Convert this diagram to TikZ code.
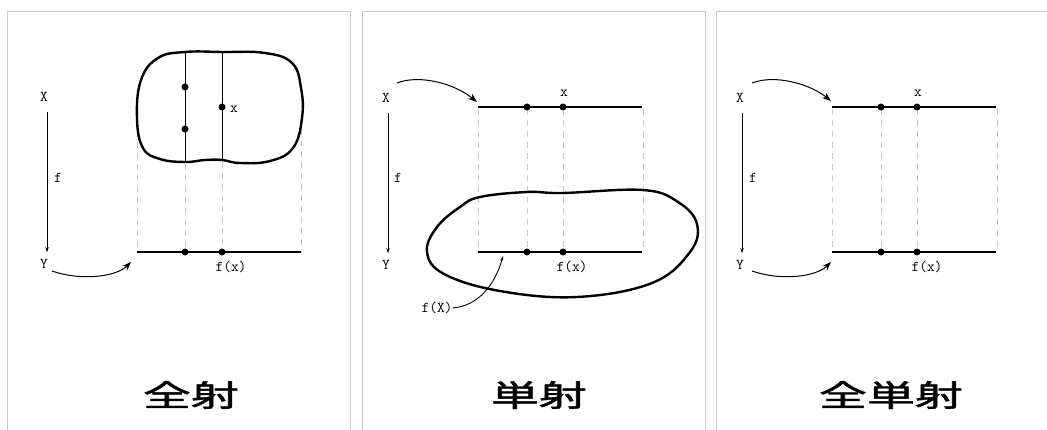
\documentclass[tikz,border=0pt]{standalone}
\usepackage{fontspec}
\newfontfamily\cjk[FakeBold=1.3]{Noto Sans CJK JP}
\usetikzlibrary{arrows.meta}
\begin{document}
\begin{tikzpicture}[x=1pt,y=-1pt,
  lbl/.style={font=\ttfamily\fontsize{15}{15}\selectfont, inner sep=0pt},
  ttl/.style={font=\cjk\fontsize{30}{30}\selectfont, inner sep=0pt},
  border/.style={draw=black!20, line width=1pt},
  axisline/.style={line width=2.6pt},
  guide/.style={draw=black!22, line width=1pt, dash pattern=on 6pt off 5pt},
  blob/.style={line width=2.4pt},
  chord/.style={line width=1pt},
  dotm/.style={circle, fill=black, inner sep=0pt, minimum size=7pt},
  farr/.style={line width=0.9pt, -{Stealth[length=5pt,width=3.5pt]}},
  carr/.style={line width=1pt, -{Stealth[length=9pt,width=6.5pt]}},
  sarr/.style={line width=0.9pt, -{Stealth[length=5pt,width=3pt]}}
]
\useasboundingbox (0,0) rectangle (1047,430);
\fill[white] (0,0) rectangle (1047,430);

% ---------- panel borders
\draw[border] (7,431) -- (7,12) -- (350,12) -- (350,431);
\draw[border] (362,431) -- (362,12) -- (705,12) -- (705,431);
\draw[border] (716,431) -- (716,12) -- (1060,12);

% ================= Panel 1 : surjection
\node[lbl] (X1) at (44,97) {X};
\node[lbl] (Y1) at (44,264) {Y};
\node[lbl] (f1) at (58,178) {f};
\draw[farr] ([xshift=3pt,yshift=-10pt]X1.south) -- ([xshift=3pt,yshift=7pt]Y1.north);

\draw[guide] (137,120) -- (137,252);
\draw[guide] (301,118) -- (301,252);
\draw[guide] (185,164) -- (185,252);
\draw[guide] (222,162) -- (222,252);

\draw[blob] plot[smooth cycle, tension=0.7] coordinates {
 (185,52) (222,52) (265,53) (292,63) (301,88) (302,118) (293,148) (270,161) (240,163)
 (222,160) (205,160) (185,162) (160,159) (143,148) (137,118) (141,80) (158,58)};
\draw[chord] (185,52) -- (185,162);
\draw[chord] (222,52) -- (222,160);
\node[dotm] (a1) at (185,87) {};
\node[dotm] (a2) at (185,129) {};
\node[dotm] (a3) at (222,107) {};
\node[lbl] (x1) at (234,109) {x};

\coordinate (B1l) at (137,252);
\coordinate (B1r) at (301,252);
\draw[axisline] (B1l) -- (B1r);
\node[dotm] (b1) at (185,252) {};
\node[dotm] (b2) at (222,252) {};
\node[lbl] (fx1) at (231,267) {f(x)};
\coordinate (Y1e) at (131,262);
\draw[carr] ([xshift=8pt,yshift=-7pt]Y1.center) .. controls (80,281) and (116,277) .. (Y1e);

\node[ttl] (t1) at (191,395) {\scalebox{1.6}[1]{全射}};

% ================= Panel 2 : injection
\node[lbl] (X2) at (386,98) {X};
\node[lbl] (Y2) at (386,265) {Y};
\node[lbl] (f2) at (398,178) {f};
\draw[farr] ([xshift=2pt,yshift=-10pt]X2.south) -- ([xshift=2pt,yshift=7pt]Y2.north);

\draw[guide] (478,109) -- (478,252);
\draw[guide] (527,109) -- (527,252);
\draw[guide] (563,109) -- (563,252);
\draw[guide] (643,109) -- (643,252);

\coordinate (T2l) at (478,107);
\coordinate (T2r) at (642,107);
\draw[axisline] (T2l) -- (T2r);
\node[dotm] (c1) at (527,107) {};
\node[dotm] (c2) at (563,107) {};
\node[lbl] (x2) at (564,93) {x};

\coordinate (B2l) at (478,252);
\coordinate (B2r) at (642,252);
\draw[axisline] (B2l) -- (B2r);
\node[dotm] (d1) at (527,252) {};
\node[dotm] (d2) at (563,252) {};
\node[lbl] (fx2) at (572,267) {f(x)};

\draw[blob] plot[smooth cycle, tension=0.65] coordinates {
 (527,192) (563,193) (643,190) (678,202) (697,224) (690,252) (652,283) (577,297)
 (500,291) (444,274) (427,252) (437,227) (460,207) (480,197)};

\coordinate (T2e) at (477,102);
\draw[carr] ([xshift=11pt,yshift=15pt]X2.center) .. controls (420,74) and (455,84) .. (T2e);

\node[lbl] (fX2) at (437,308) {f(X)};
\coordinate (fXe) at (503,256);
\draw[sarr] (fX2.east) .. controls (478,306) and (495,285) .. (fXe);

\node[ttl] (t2) at (539,395) {\scalebox{1.6}[1]{単射}};

% ================= Panel 3 : bijection
\node[lbl] (X3) at (740,98) {X};
\node[lbl] (Y3) at (740,265) {Y};
\node[lbl] (f3) at (753,178) {f};
\draw[farr] ([xshift=2pt,yshift=-10pt]X3.south) -- ([xshift=2pt,yshift=7pt]Y3.north);

\draw[guide] (832,109) -- (832,252);
\draw[guide] (881,109) -- (881,252);
\draw[guide] (917,109) -- (917,252);
\draw[guide] (997,109) -- (997,252);

\coordinate (T3l) at (832,107);
\coordinate (T3r) at (996,107);
\draw[axisline] (T3l) -- (T3r);
\node[dotm] (e1) at (881,107) {};
\node[dotm] (e2) at (917,107) {};
\node[lbl] (x3) at (918,93) {x};

\coordinate (B3l) at (832,252);
\coordinate (B3r) at (996,252);
\draw[axisline] (B3l) -- (B3r);
\node[dotm] (g1) at (881,252) {};
\node[dotm] (g2) at (917,252) {};
\node[lbl] (fx3) at (927,267) {f(x)};

\coordinate (T3e) at (831,101);
\coordinate (B3e) at (831,262);
\draw[carr] ([xshift=12pt,yshift=15pt]X3.center) .. controls (775,74) and (810,84) .. (T3e);
\draw[carr] ([xshift=12pt,yshift=-6pt]Y3.center) .. controls (780,281) and (816,277) .. (B3e);

\node[ttl] (t3) at (891,395) {\scalebox{1.6}[1]{全単射}};
\end{tikzpicture}
\end{document}
